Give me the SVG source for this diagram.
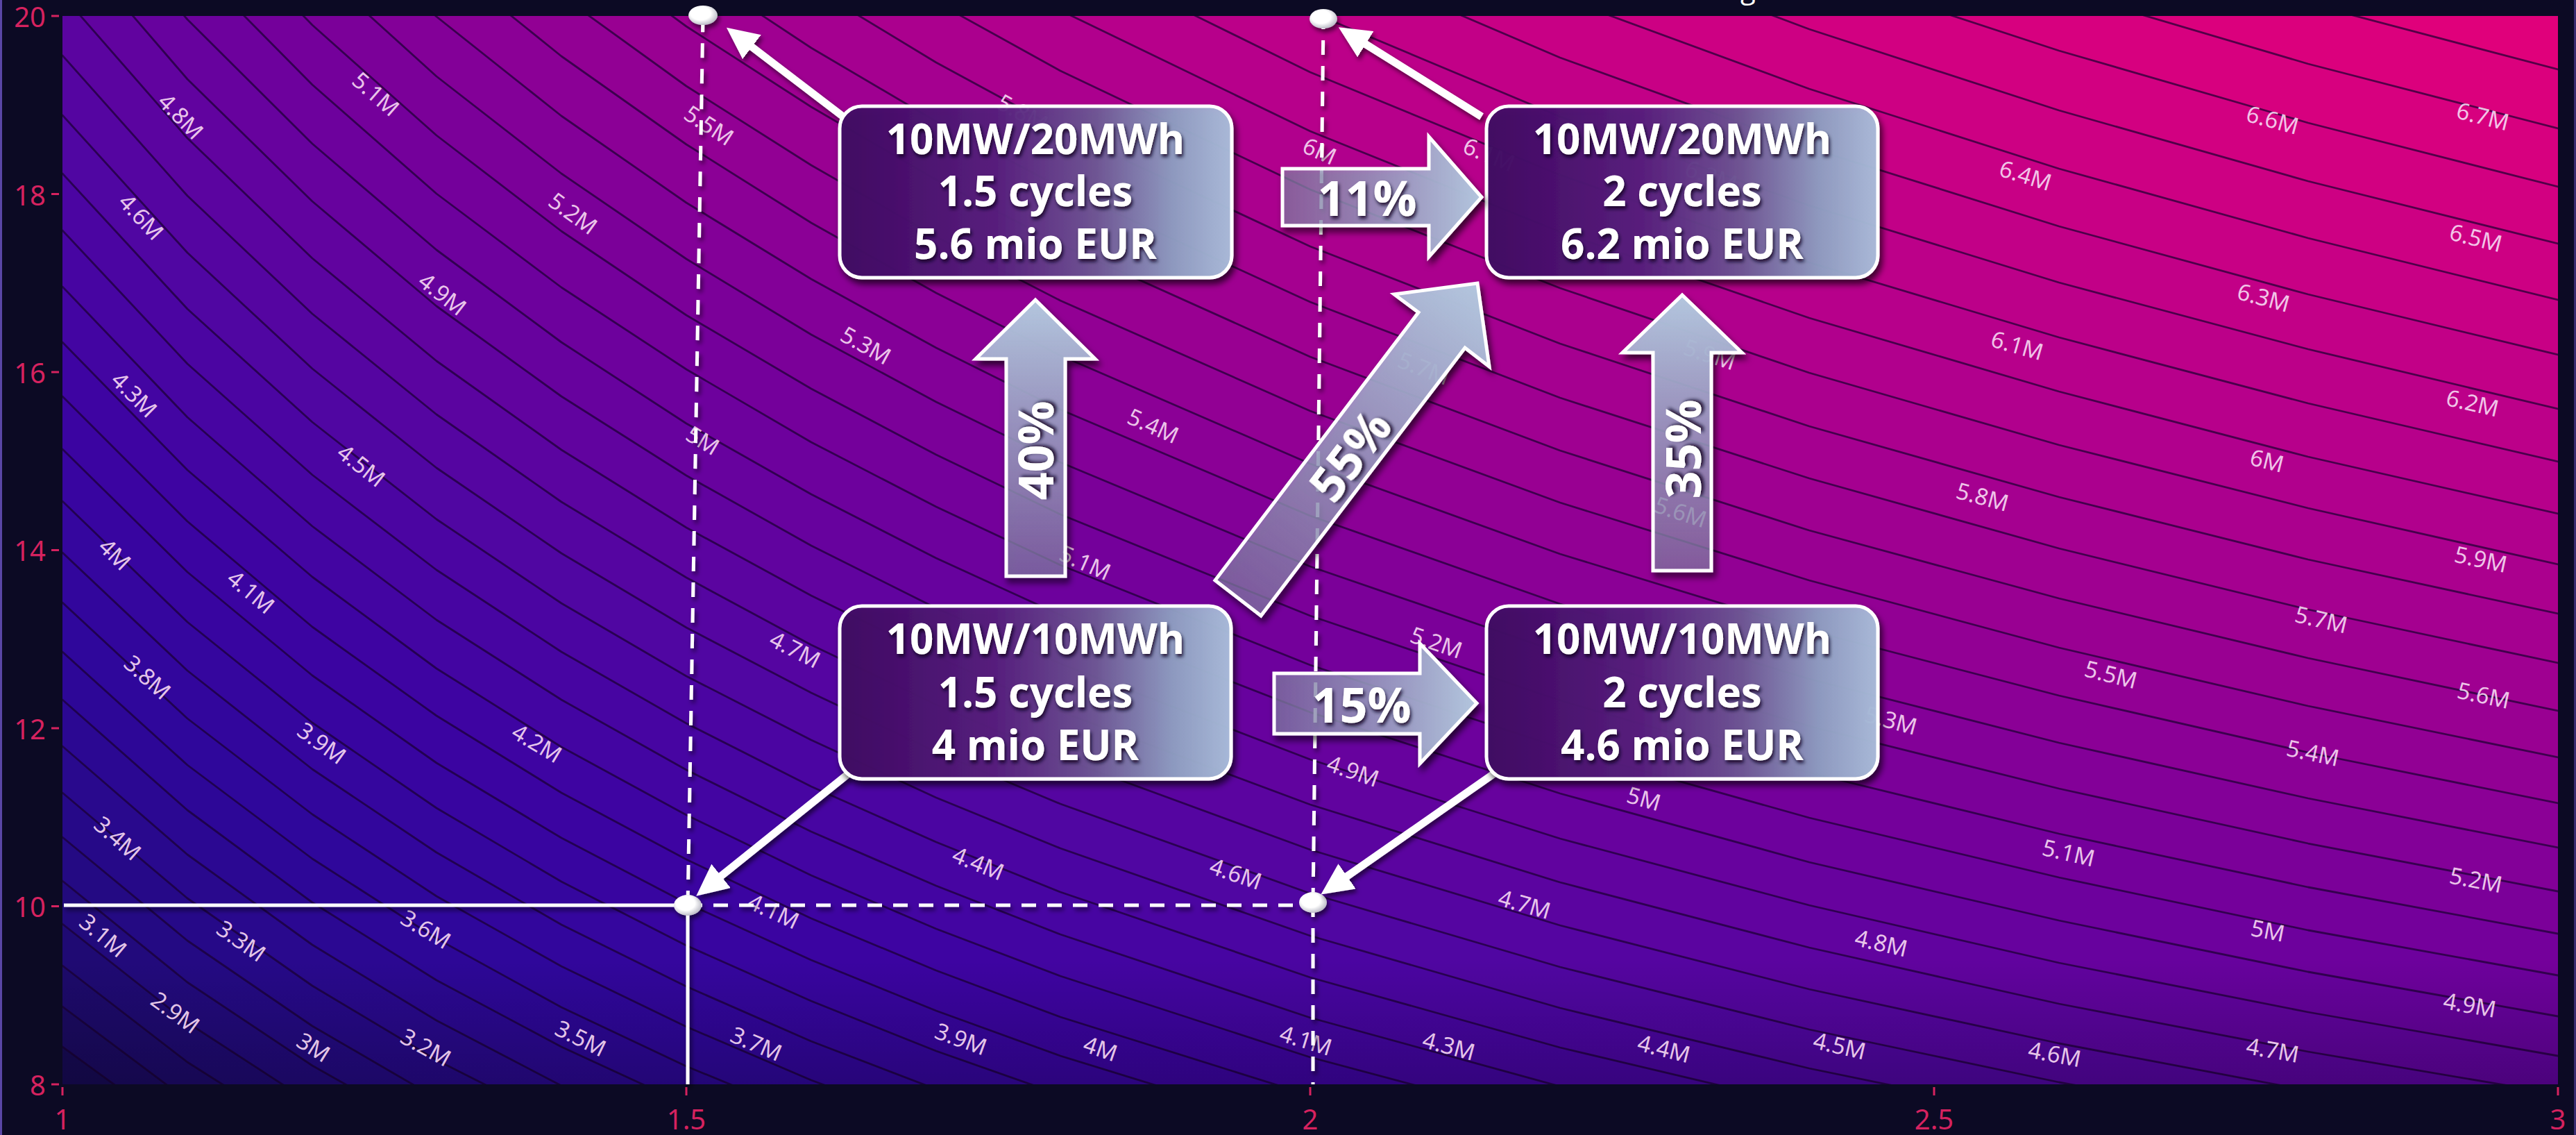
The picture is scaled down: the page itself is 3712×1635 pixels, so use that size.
<svg xmlns="http://www.w3.org/2000/svg" width="3712" height="1635" viewBox="0 0 3712 1635">
<defs>
<style>
.bd{stroke:#1a0030;stroke-opacity:.7;stroke-width:2.8;stroke-linejoin:round}
.cl text{font-family:"Noto Sans","DejaVu Sans",sans-serif;font-size:33px;fill:#f6d8f2;fill-opacity:.93;text-anchor:middle;dominant-baseline:central}
.ax text{font-family:"Noto Sans","DejaVu Sans",sans-serif;font-size:40px;fill:#d6225f}
.tk{stroke:#d6225f;stroke-width:3}
.gl{fill:none;stroke:#fff;stroke-width:5}
.dash{stroke-dasharray:21 16}
.mk{fill:url(#dot)}
.wa{stroke:#fff;stroke-width:11;marker-end:url(#ah)}
.box{fill:url(#boxg);fill-opacity:.93;stroke:#fff;stroke-width:5}
.bt{font-family:"Open Sans","Noto Sans",sans-serif;font-weight:700;font-size:60px;fill:#fff;text-anchor:middle}
.pt{font-family:"Open Sans","Noto Sans",sans-serif;font-weight:700;font-size:70px;fill:#fff;text-anchor:middle;dominant-baseline:central}
.blk{stroke:#fff;stroke-width:5;stroke-linejoin:miter}
</style>
<clipPath id="clip"><rect x="90" y="23" width="3596" height="1539"/></clipPath>
<linearGradient id="boxg" x1="0" y1="0" x2="1" y2="0">
<stop offset="0" stop-color="#400863"/><stop offset=".4" stop-color="#58207f"/><stop offset=".65" stop-color="#6f5896"/><stop offset=".85" stop-color="#91a0c4"/><stop offset="1" stop-color="#adc1de"/>
</linearGradient>
<linearGradient id="agH" x1="0" y1="0" x2="1" y2="0">
<stop offset="0" stop-color="#8f8cb4" stop-opacity=".55"/><stop offset=".55" stop-color="#a2a8cc" stop-opacity=".8"/><stop offset="1" stop-color="#b3c6de"/>
</linearGradient>
<linearGradient id="agV" x1="0" y1="1" x2="0" y2="0">
<stop offset="0" stop-color="#8f8cb4" stop-opacity=".55"/><stop offset=".55" stop-color="#a2a8cc" stop-opacity=".8"/><stop offset="1" stop-color="#b3c6de"/>
</linearGradient>
<linearGradient id="agD" gradientUnits="userSpaceOnUse" x1="1784" y1="861" x2="2129" y2="408">
<stop offset="0" stop-color="#8f8cb4" stop-opacity=".55"/><stop offset=".55" stop-color="#a2a8cc" stop-opacity=".8"/><stop offset="1" stop-color="#b3c6de"/>
</linearGradient>
<linearGradient id="vg" x1="0" y1="0" x2="0" y2="1">
<stop offset="0" stop-color="#000" stop-opacity="0"/><stop offset="1" stop-color="#000" stop-opacity=".22"/>
</linearGradient>
<radialGradient id="dot" cx=".42" cy=".4" r=".62">
<stop offset=".55" stop-color="#fff"/><stop offset="1" stop-color="#b9b9c4"/>
</radialGradient>
<filter id="shd" x="-10%" y="-10%" width="130%" height="140%"><feDropShadow dx="4" dy="7" stdDeviation="5" flood-color="#000" flood-opacity=".7"/></filter>
<filter id="tsh" x="-10%" y="-20%" width="130%" height="150%"><feDropShadow dx="2" dy="4" stdDeviation="2.5" flood-color="#10001e" flood-opacity=".85"/></filter>
<filter id="lsh" filterUnits="userSpaceOnUse" x="0" y="0" width="3712" height="1635"><feDropShadow dx="3" dy="5" stdDeviation="3" flood-color="#000" flood-opacity=".55"/></filter>
<marker id="ah" viewBox="0 0 10 10" markerUnits="userSpaceOnUse" markerWidth="46" markerHeight="44" refX="5.6" refY="5" orient="auto" preserveAspectRatio="none"><path d="M0,0L10,5L0,10z" fill="#fff"/></marker>
</defs>

<rect width="3712" height="1635" fill="#0c0a24"/>
<rect x="0" y="0" width="3" height="1635" fill="#5a46a6"/>
<rect x="3709" y="0" width="3" height="1635" fill="#3a2c70"/>
<text x="2508" y="-2" font-family="Open Sans, sans-serif" font-size="40" fill="#fff">g</text>

<g id="contour-map" clip-path="url(#clip)">
<rect x="90" y="23" width="3596" height="1539" fill="#170a55"/>
<path class="bd" fill="#1b0a62" d="M90,1508L270,1639L3800,1639L3800,-300L70,-300L70,1508Z"/>
<path class="bd" fill="#1d0a6b" d="M90,1450L270,1585L450,1696L3800,1696L3800,-300L70,-300L70,1450Z"/>
<path class="bd" fill="#1f0a73" d="M90,1391L270,1530L450,1644L3800,1644L3800,-300L70,-300L70,1391Z"/>
<path class="bd" fill="#220a7c" d="M90,1331L270,1473L450,1590L3800,1590L3800,-300L70,-300L70,1331Z"/>
<path class="bd" fill="#240a83" d="M90,1269L270,1415L450,1535L629,1636L3800,1636L3800,-300L70,-300L70,1269Z"/>
<path class="bd" fill="#260988" d="M90,1206L270,1355L450,1478L629,1582L3800,1582L3800,-300L70,-300L70,1206Z"/>
<path class="bd" fill="#29098d" d="M90,1142L270,1294L450,1420L629,1527L809,1618L3800,1618L3800,-300L70,-300L70,1142Z"/>
<path class="bd" fill="#2b0892" d="M90,1075L270,1231L450,1361L629,1470L809,1564L989,1645L3800,1645L3800,-300L70,-300L70,1075Z"/>
<path class="bd" fill="#2d0797" d="M90,1008L270,1167L450,1300L629,1412L809,1508L989,1591L3800,1591L3800,-300L70,-300L70,1008Z"/>
<path class="bd" fill="#2f079b" d="M90,939L270,1102L450,1237L629,1352L809,1451L989,1536L1169,1610L3800,1610L3800,-300L70,-300L70,939Z"/>
<path class="bd" fill="#32069c" d="M90,868L270,1035L450,1173L629,1291L809,1392L989,1479L1169,1556L1349,1623L3800,1623L3800,-300L70,-300L70,868Z"/>
<path class="bd" fill="#35069e" d="M90,796L270,966L450,1108L629,1228L809,1332L989,1421L1169,1500L1349,1569L1528,1631L3800,1631L3800,-300L70,-300L70,796Z"/>
<path class="bd" fill="#3805a0" d="M90,722L270,896L450,1041L629,1164L809,1270L989,1362L1169,1442L1349,1514L1528,1577L1888,1685L3800,1685L3800,-300L70,-300L70,722Z"/>
<path class="bd" fill="#3b04a1" d="M90,647L270,824L450,973L629,1099L809,1207L989,1301L1169,1383L1349,1456L1528,1521L1888,1632L3800,1632L3800,-300L70,-300L70,647Z"/>
<path class="bd" fill="#3e04a2" d="M90,571L270,751L450,903L629,1031L809,1142L989,1238L1169,1323L1349,1398L1528,1465L1888,1578L2248,1672L3800,1672L3800,-300L70,-300L70,571Z"/>
<path class="bd" fill="#4305a2" d="M90,493L270,677L450,831L629,963L809,1076L989,1174L1169,1261L1349,1338L1528,1406L1888,1523L2248,1619L3800,1619L3800,-300L70,-300L70,493Z"/>
<path class="bd" fill="#4705a2" d="M90,413L270,601L450,758L629,893L809,1008L989,1109L1169,1198L1349,1276L1528,1346L1888,1466L2248,1565L2607,1647L3800,1647L3800,-300L70,-300L70,413Z"/>
<path class="bd" fill="#4b05a2" d="M90,332L270,524L450,684L629,821L809,939L989,1042L1169,1133L1349,1213L1528,1285L1888,1408L2248,1509L2607,1594L3800,1594L3800,-300L70,-300L70,332Z"/>
<path class="bd" fill="#5006a2" d="M90,250L270,445L450,608L629,748L809,869L989,974L1169,1066L1349,1149L1528,1222L1888,1348L2248,1452L2607,1539L2967,1613L3800,1613L3800,-300L70,-300L70,250Z"/>
<path class="bd" fill="#5505a1" d="M90,166L270,364L450,531L629,674L809,797L989,904L1169,998L1349,1083L1528,1158L1888,1287L2248,1393L2607,1483L2967,1559L3326,1625L3800,1625L3800,-300L70,-300L70,166Z"/>
<path class="bd" fill="#5b04a0" d="M90,80L270,282L450,452L629,597L809,723L989,832L1169,929L1349,1015L1528,1092L1888,1224L2248,1333L2607,1425L2967,1503L3326,1571L3686,1630L3800,1630L3800,-300L70,-300L70,80Z"/>
<path class="bd" fill="#61039f" d="M90,-7L270,199L450,372L629,520L809,648L989,760L1169,858L1349,946L1528,1025L1888,1159L2248,1271L2607,1365L2967,1446L3326,1515L3686,1576L3800,1576L3800,-300L70,-300L70,-7Z"/>
<path class="bd" fill="#67029e" d="M90,-95L270,114L450,290L629,441L809,571L989,685L1169,786L1349,876L1528,956L1888,1094L2248,1208L2607,1304L2967,1387L3326,1458L3686,1521L3800,1521L3800,-300L90,-300Z"/>
<path class="bd" fill="#6d019d" d="M90,-185L270,28L450,207L629,360L809,493L989,610L1169,712L1349,804L1528,886L1888,1026L2248,1143L2607,1242L2967,1326L3326,1400L3686,1464L3800,1464L3800,-300L90,-300Z"/>
<path class="bd" fill="#74009b" d="M270,-60L450,122L629,279L809,414L989,532L1169,637L1349,730L1528,814L1888,958L2248,1077L2607,1178L2967,1264L3326,1340L3686,1405L3800,1405L3800,-300L270,-300Z"/>
<path class="bd" fill="#7b0099" d="M270,-149L450,36L629,195L809,333L989,454L1169,560L1349,655L1528,741L1888,887L2248,1009L2607,1113L2967,1201L3326,1278L3686,1345L3800,1345L3800,-300L270,-300Z"/>
<path class="bd" fill="#830098" d="M450,-52L629,110L809,250L989,373L1169,482L1349,579L1528,666L1888,816L2248,940L2607,1046L2967,1136L3326,1215L3686,1284L3800,1284L3800,-300L450,-300Z"/>
<path class="bd" fill="#8b0096" d="M450,-141L629,24L809,167L989,292L1169,402L1349,501L1528,590L1888,743L2248,870L2607,978L2967,1070L3326,1150L3686,1221L3800,1221L3800,-300L450,-300Z"/>
<path class="bd" fill="#920094" d="M629,-64L809,81L989,208L1169,321L1349,422L1528,512L1888,668L2248,798L2607,908L2967,1002L3326,1084L3686,1157L3800,1157L3800,-300L629,-300Z"/>
<path class="bd" fill="#990092" d="M809,-6L989,124L1169,238L1349,341L1528,433L1888,592L2248,724L2607,836L2967,933L3326,1017L3686,1091L3800,1091L3800,-300L809,-300Z"/>
<path class="bd" fill="#9f0091" d="M809,-94L989,38L1169,154L1349,259L1528,352L1888,514L2248,649L2607,764L2967,862L3326,948L3686,1024L3800,1024L3800,-300L809,-300Z"/>
<path class="bd" fill="#a50090" d="M989,-50L1169,69L1349,175L1528,270L1888,435L2248,573L2607,689L2967,790L3326,878L3686,955L3800,955L3800,-300L989,-300Z"/>
<path class="bd" fill="#ab008e" d="M1169,-19L1349,90L1528,187L1888,355L2248,495L2607,614L2967,716L3326,806L3686,884L3800,884L3800,-300L1169,-300Z"/>
<path class="bd" fill="#b1008d" d="M1169,-107L1349,3L1528,102L1888,273L2248,415L2607,537L2967,641L3326,732L3686,813L3800,813L3800,-300L1169,-300Z"/>
<path class="bd" fill="#b7008b" d="M1349,-85L1528,15L1888,189L2248,334L2607,458L2967,564L3326,658L3686,740L3800,740L3800,-300L1349,-300Z"/>
<path class="bd" fill="#bc0089" d="M1528,-73L1888,104L2248,252L2607,378L2967,486L3326,581L3686,665L3800,665L3800,-300L1528,-300Z"/>
<path class="bd" fill="#c20087" d="M1888,17L2248,168L2607,296L2967,407L3326,503L3686,589L3800,589L3800,-300L1888,-300Z"/>
<path class="bd" fill="#c80085" d="M1888,-71L2248,83L2607,213L2967,326L3326,424L3686,511L3800,511L3800,-300L1888,-300Z"/>
<path class="bd" fill="#cd0083" d="M2248,-4L2607,128L2967,243L3326,343L3686,432L3800,432L3800,-300L2248,-300Z"/>
<path class="bd" fill="#d20081" d="M2248,-93L2607,42L2967,159L3326,261L3686,351L3800,351L3800,-300L2248,-300Z"/>
<path class="bd" fill="#d7007f" d="M2607,-45L2967,73L3326,177L3686,269L3800,269L3800,-300L2607,-300Z"/>
<path class="bd" fill="#db007d" d="M2967,-14L3326,92L3686,185L3800,185L3800,-300L2967,-300Z"/>
<path class="bd" fill="#e0007b" d="M2967,-102L3326,5L3686,100L3800,100L3800,-300L2967,-300Z"/>
<rect x="90" y="1380" width="3596" height="182" fill="url(#vg)"/>
</g>

<g id="contour-labels" class="cl" clip-path="url(#clip)">
<text transform="translate(261,167) rotate(46)">4.8M</text>
<text transform="translate(542,135) rotate(41)">5.1M</text>
<text transform="translate(204,312) rotate(47)">4.6M</text>
<text transform="translate(826,307) rotate(36)">5.2M</text>
<text transform="translate(638,423) rotate(38)">4.9M</text>
<text transform="translate(1022,180) rotate(33)">5.5M</text>
<text transform="translate(194,568) rotate(45)">4.3M</text>
<text transform="translate(521,670) rotate(38)">4.5M</text>
<text transform="translate(166,798) rotate(44)">4M</text>
<text transform="translate(362,852) rotate(40)">4.1M</text>
<text transform="translate(213,975) rotate(42)">3.8M</text>
<text transform="translate(464,1070) rotate(36)">3.9M</text>
<text transform="translate(774,1070) rotate(31)">4.2M</text>
<text transform="translate(170,1207) rotate(41)">3.4M</text>
<text transform="translate(149,1347) rotate(40)">3.1M</text>
<text transform="translate(348,1355) rotate(35)">3.3M</text>
<text transform="translate(614,1338) rotate(31)">3.6M</text>
<text transform="translate(253,1458) rotate(36)">2.9M</text>
<text transform="translate(452,1508) rotate(32)">3M</text>
<text transform="translate(614,1508) rotate(29)">3.2M</text>
<text transform="translate(837,1495) rotate(26)">3.5M</text>
<text transform="translate(1090,1503) rotate(23)">3.7M</text>
<text transform="translate(1115,1312) rotate(25)">4.1M</text>
<text transform="translate(1248,497) rotate(29)">5.3M</text>
<text transform="translate(1013,634) rotate(31)">5M</text>
<text transform="translate(1662,613) rotate(24)">5.4M</text>
<text transform="translate(1564,810) rotate(24)">5.1M</text>
<text transform="translate(1146,935) rotate(27)">4.7M</text>
<text transform="translate(1410,1243) rotate(22)">4.4M</text>
<text transform="translate(1781,1258) rotate(19)">4.6M</text>
<text transform="translate(1385,1496) rotate(20)">3.9M</text>
<text transform="translate(1586,1510) rotate(19)">4M</text>
<text transform="translate(1882,1498) rotate(17)">4.1M</text>
<text transform="translate(2088,1506) rotate(15)">4.3M</text>
<text transform="translate(2398,1510) rotate(14)">4.4M</text>
<text transform="translate(2651,1506) rotate(13)">4.5M</text>
<text transform="translate(2961,1518) rotate(11)">4.6M</text>
<text transform="translate(3275,1512) rotate(10)">4.7M</text>
<text transform="translate(3559,1447) rotate(10)">4.9M</text>
<text transform="translate(3268,1340) rotate(11)">5M</text>
<text transform="translate(3568,1267) rotate(11)">5.2M</text>
<text transform="translate(2711,1358) rotate(13)">4.8M</text>
<text transform="translate(2197,1302) rotate(16)">4.7M</text>
<text transform="translate(2981,1228) rotate(13)">5.1M</text>
<text transform="translate(2369,1150) rotate(16)">5M</text>
<text transform="translate(1950,1110) rotate(19)">4.9M</text>
<text transform="translate(2070,925) rotate(19)">5.2M</text>
<text transform="translate(2725,1037) rotate(15)">5.3M</text>
<text transform="translate(3333,1084) rotate(12)">5.4M</text>
<text transform="translate(3042,971) rotate(14)">5.5M</text>
<text transform="translate(3579,1001) rotate(12)">5.6M</text>
<text transform="translate(3345,892) rotate(13)">5.7M</text>
<text transform="translate(3575,805) rotate(12)">5.9M</text>
<text transform="translate(2857,715) rotate(15)">5.8M</text>
<text transform="translate(3267,663) rotate(14)">6M</text>
<text transform="translate(2422,737) rotate(18)">5.6M</text>
<text transform="translate(3563,580) rotate(13)">6.2M</text>
<text transform="translate(2907,497) rotate(16)">6.1M</text>
<text transform="translate(3568,342) rotate(14)">6.5M</text>
<text transform="translate(3262,428) rotate(15)">6.3M</text>
<text transform="translate(2919,252) rotate(17)">6.4M</text>
<text transform="translate(3275,172) rotate(15)">6.6M</text>
<text transform="translate(3578,167) rotate(14)">6.7M</text>
<text transform="translate(2052,530) rotate(21)">5.7M</text>
<text transform="translate(2464,510) rotate(18)">5.9M</text>
<text transform="translate(1902,217) rotate(24)">6M</text>
<text transform="translate(2146,222) rotate(22)">6.1M</text>
<text transform="translate(1474,162) rotate(28)">5.8M</text>
<text transform="translate(2466,253) rotate(19)">6.2M</text>
</g>

<g id="axes" class="ax">
<line class="tk" x1="74" y1="23" x2="85" y2="23"/>
<line class="tk" x1="74" y1="279.5" x2="85" y2="279.5"/>
<line class="tk" x1="74" y1="536" x2="85" y2="536"/>
<line class="tk" x1="74" y1="792.5" x2="85" y2="792.5"/>
<line class="tk" x1="74" y1="1049" x2="85" y2="1049"/>
<line class="tk" x1="74" y1="1305.5" x2="85" y2="1305.5"/>
<line class="tk" x1="74" y1="1562" x2="85" y2="1562"/>
<line class="tk" x1="90" y1="1566" x2="90" y2="1578"/>
<line class="tk" x1="989" y1="1566" x2="989" y2="1578"/>
<line class="tk" x1="1888" y1="1566" x2="1888" y2="1578"/>
<line class="tk" x1="2787" y1="1566" x2="2787" y2="1578"/>
<line class="tk" x1="3686" y1="1566" x2="3686" y2="1578"/>
<text x="66" y="39" text-anchor="end">20</text>
<text x="66" y="296" text-anchor="end">18</text>
<text x="66" y="552" text-anchor="end">16</text>
<text x="66" y="808" text-anchor="end">14</text>
<text x="66" y="1065" text-anchor="end">12</text>
<text x="66" y="1321" text-anchor="end">10</text>
<text x="66" y="1578" text-anchor="end">8</text>
<text x="90" y="1627" text-anchor="middle">1</text>
<text x="989" y="1627" text-anchor="middle">1.5</text>
<text x="1888" y="1627" text-anchor="middle">2</text>
<text x="2787" y="1627" text-anchor="middle">2.5</text>
<text x="3686" y="1627" text-anchor="middle">3</text>
</g>

<g id="guides" filter="url(#lsh)">
<line class="gl" x1="92" y1="1304" x2="991" y2="1304"/>
<line class="gl" x1="991" y1="1304" x2="991" y2="1562" stroke-width="4"/>
<line class="gl dash" x1="991" y1="1304" x2="1892" y2="1304"/>
<line class="gl dash" x1="991" y1="1304" x2="1013" y2="22"/>
<line class="gl dash" x1="1892" y1="1300" x2="1907" y2="27"/>
<line class="gl dash" x1="1892" y1="1300" x2="1892" y2="1562"/>
<ellipse class="mk" cx="1013" cy="22" rx="21" ry="14"/>
<ellipse class="mk" cx="1907" cy="27" rx="20" ry="14"/>
<ellipse class="mk" cx="991" cy="1304" rx="20" ry="15"/>
<ellipse class="mk" cx="1892" cy="1300" rx="20" ry="15"/>
</g>

<g id="pointers" filter="url(#lsh)">
<line class="wa" x1="1215" y1="168" x2="1063" y2="52"/>
<line class="wa" x1="2135" y1="168" x2="1946" y2="50"/>
<line class="wa" x1="1222" y1="1115" x2="1019" y2="1278"/>
<line class="wa" x1="2152" y1="1115" x2="1920" y2="1277"/>
</g>

<g id="node-10mw-20mwh-1-5" filter="url(#shd)">
<rect class="box" x="1210" y="153" width="565" height="247" rx="32"/>
</g>
<g filter="url(#tsh)">
<text class="bt" x="1492" y="222">10MW/20MWh</text>
<text class="bt" x="1492" y="297">1.5 cycles</text>
<text class="bt" x="1492" y="373">5.6 mio EUR</text>
</g>

<g id="node-10mw-20mwh-2" filter="url(#shd)">
<rect class="box" x="2142" y="153" width="564" height="247" rx="32"/>
</g>
<g filter="url(#tsh)">
<text class="bt" x="2424" y="222">10MW/20MWh</text>
<text class="bt" x="2424" y="297">2 cycles</text>
<text class="bt" x="2424" y="373">6.2 mio EUR</text>
</g>

<g id="node-10mw-10mwh-1-5" filter="url(#shd)">
<rect class="box" x="1210" y="873" width="564" height="249" rx="32"/>
</g>
<g filter="url(#tsh)">
<text class="bt" x="1492" y="942">10MW/10MWh</text>
<text class="bt" x="1492" y="1019">1.5 cycles</text>
<text class="bt" x="1492" y="1095">4 mio EUR</text>
</g>

<g id="node-10mw-10mwh-2" filter="url(#shd)">
<rect class="box" x="2142" y="873" width="564" height="249" rx="32"/>
</g>
<g filter="url(#tsh)">
<text class="bt" x="2424" y="942">10MW/10MWh</text>
<text class="bt" x="2424" y="1019">2 cycles</text>
<text class="bt" x="2424" y="1095">4.6 mio EUR</text>
</g>

<g id="connectors">
<g id="edge-11" filter="url(#shd)">
<path class="blk" fill="url(#agH)" d="M1848,243L2059,243L2059,197L2135,284L2059,370L2059,325L1848,325Z"/>
</g>
<text class="pt" x="1970" y="284" filter="url(#tsh)">11%</text>
<g id="edge-15" filter="url(#shd)">
<path class="blk" fill="url(#agH)" d="M1836,970L2046,970L2046,927L2128,1013L2046,1100L2046,1057L1836,1057Z"/>
</g>
<text class="pt" x="1962" y="1014" filter="url(#tsh)">15%</text>
<g id="edge-40" filter="url(#shd)">
<path class="blk" fill="url(#agV)" d="M1450,830L1450,517L1406,517L1492,432L1578,517L1535,517L1535,830Z"/>
</g>
<text class="pt" transform="translate(1491,649) rotate(-90)" filter="url(#tsh)">40%</text>
<g id="edge-35" filter="url(#shd)">
<path class="blk" fill="url(#agV)" d="M2382,822L2382,508L2338,508L2424,425L2510,508L2466,508L2466,822Z"/>
</g>
<text class="pt" transform="translate(2424,647) rotate(-90)" filter="url(#tsh)">35%</text>
<g id="edge-55" filter="url(#shd)">
<path class="blk" fill="url(#agD)" d="M1751,836L2044,450L2009,424L2129,408L2146,528L2111,501L1817,887Z"/>
</g>
<text class="pt" transform="translate(1944,655) rotate(-52.7)" filter="url(#tsh)">55%</text>
</g>
</svg>
